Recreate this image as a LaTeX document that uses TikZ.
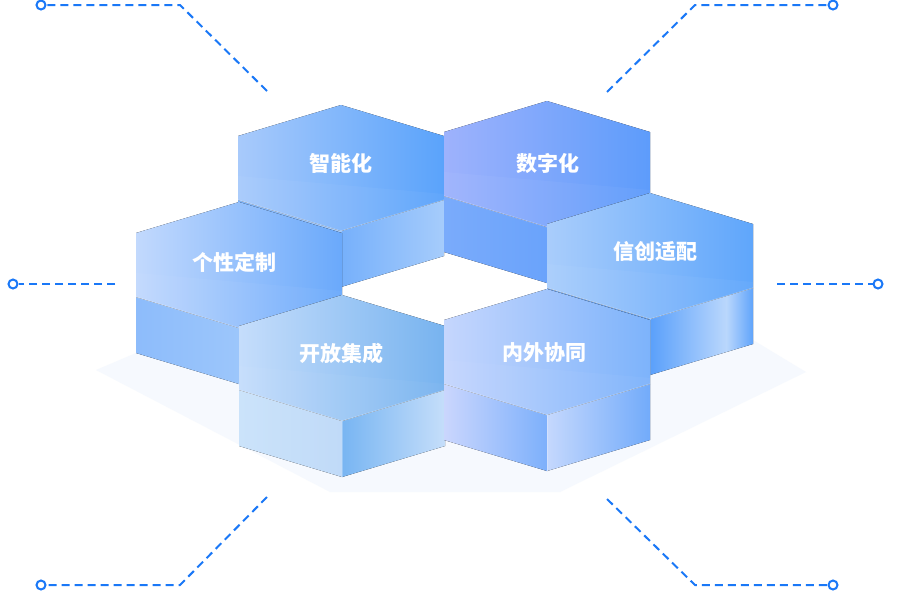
\documentclass[tikz,border=0pt]{standalone}
\usepackage{fontspec}
\newfontfamily\cjk{Noto Sans CJK SC}
\definecolor{dashblue}{HTML}{1A78F7}
\definecolor{floor}{HTML}{F6F9FE}
% top faces
\definecolor{znL}{HTML}{A8CAFB}\definecolor{znR}{HTML}{5AA3FB}
\definecolor{szL}{HTML}{9EB2FC}\definecolor{szR}{HTML}{5D9CFB}
\definecolor{gxL}{HTML}{C2D9FD}\definecolor{gxR}{HTML}{6AA9FB}
\definecolor{xcL}{HTML}{A9CDFB}\definecolor{xcR}{HTML}{5FA6FB}
\definecolor{kfL}{HTML}{C5DDFB}\definecolor{kfR}{HTML}{77B3EF}
\definecolor{nwL}{HTML}{C5D6FD}\definecolor{nwR}{HTML}{7DB3FB}
% walls
\definecolor{znwL}{HTML}{76B0FB}\definecolor{znwR}{HTML}{A6CCFB}
\definecolor{szwL}{HTML}{7AABFB}\definecolor{szwR}{HTML}{6AA3FB}
\definecolor{gxwL}{HTML}{8DBCFB}\definecolor{gxwR}{HTML}{9CC6FB}
\definecolor{xcwA}{HTML}{5AA0FB}\definecolor{xcwB}{HTML}{BAD7FC}\definecolor{xcwC}{HTML}{60A4FB}
\definecolor{kfwL}{HTML}{CBE3FA}\definecolor{kfwR}{HTML}{C0DAF8}
\definecolor{kfvL}{HTML}{78B5F2}\definecolor{kfvR}{HTML}{C5DEFA}
\definecolor{nwwL}{HTML}{CAD6FD}\definecolor{nwwR}{HTML}{7DB0FB}
\definecolor{nwvL}{HTML}{C5D8FD}\definecolor{nwvR}{HTML}{72ABFA}
\pgfdeclarehorizontalshading{shine}{100bp}{color(0bp)=(xcwA); color(25bp)=(xcwA); color(62bp)=(xcwB); color(75bp)=(xcwC); color(100bp)=(xcwC)}
\tikzset{
  edge/.style={white, opacity=0.4, line width=0.8pt},
  band/.style={white, opacity=0.04},
  dashline/.style={dashblue, line width=2pt, dash pattern=on 8pt off 5pt},
  endring/.style={circle, draw=dashblue, line width=2pt, fill=white, minimum size=9pt, inner sep=0pt},
  hexlabel/.style={text=white, font=\cjk\bfseries\fontsize{21pt}{23pt}\selectfont, inner sep=0pt},
}
% #1 cx, #2 cy, #3 top style, #4 left wall style, #5 right wall style
\newcommand\hexprism[5]{%
  \fill[#4] ({#1-103},{#2+32}) -- ({#1},{#2+63}) -- ({#1},{#2+119}) -- ({#1-103},{#2+88}) -- cycle;
  \fill[#5] ({#1},{#2+63}) -- ({#1+103},{#2+32}) -- ({#1+103},{#2+88}) -- ({#1},{#2+119}) -- cycle;
  \fill[#3] ({#1},{#2-63}) -- ({#1+103},{#2-32}) -- ({#1+103},{#2+32}) -- ({#1},{#2+63}) -- ({#1-103},{#2+32}) -- ({#1-103},{#2-32}) -- cycle;
  \fill[band] ({#1-103},{#2+8}) -- ({#1+103},{#2+26}) -- ({#1+103},{#2+32}) -- ({#1},{#2+63}) -- ({#1-103},{#2+32}) -- cycle;
  \draw[edge] ({#1-103},{#2+32}) -- ({#1},{#2+63}) -- ({#1+103},{#2+32});
  \draw[edge, opacity=0.25] ({#1},{#2+63}) -- ({#1},{#2+119});
}
\begin{document}
\begin{tikzpicture}[x=1pt,y=-1pt]
\fill[white] (0,0) rectangle (900,592);
\useasboundingbox (0,0) rectangle (900,592);
% floor shadow
\fill[floor] (136,353) -- (96,370) -- (330,492) -- (560,492) -- (806,372) -- (753,340) -- cycle;
% row 1
\hexprism{341}{168}{left color=znL,right color=znR}{left color=znwL,right color=znwR}{left color=znwL,right color=znwR}
\hexprism{547}{164}{left color=szL,right color=szR}{left color=szwL,right color=szwR}{left color=szwL,right color=szwR}
% row 2
\hexprism{239}{265}{left color=gxL,right color=gxR}{left color=gxwL,right color=gxwR}{left color=gxwL,right color=gxwR}
\hexprism{650}{256}{left color=xcL,right color=xcR}{left color=xcwA,right color=xcwA}{shade,shading=shine}
% row 3
\hexprism{342}{358}{left color=kfL,right color=kfR}{left color=kfwL,right color=kfwR}{left color=kfvL,right color=kfvR}
\hexprism{547}{352}{left color=nwL,right color=nwR}{left color=nwwL,right color=nwwR}{left color=nwvL,right color=nwvR}
% labels
\node[hexlabel] (zn) at (341,163) {智能化};
\node[hexlabel] (sz) at (548,163) {数字化};
\node[hexlabel] (gx) at (234,262) {个性定制};
\node[hexlabel] (xc) at (655,252) {信创适配};
\node[hexlabel] (kf) at (341,353) {开放集成};
\node[hexlabel] (nw) at (544,353) {内外协同};
% dashed leaders
\coordinate (tlA) at (267,91); \coordinate (tlB) at (180,5);
\coordinate (trA) at (607,92); \coordinate (trB) at (695,5);
\coordinate (blA) at (267,497); \coordinate (blB) at (180,585);
\coordinate (brA) at (607,499); \coordinate (brB) at (695,585);
\coordinate (lA) at (115,284);
\coordinate (rA) at (777,284);
\node[endring] (tlC) at (41,5) {};
\node[endring] (trC) at (833,5) {};
\node[endring] (blC) at (41,585) {};
\node[endring] (brC) at (833,585) {};
\node[endring] (lC) at (13,284) {};
\node[endring] (rC) at (878,284) {};
\draw[dashline] (tlA) -- (tlB) -- (tlC);
\draw[dashline] (trA) -- (trB) -- (trC);
\draw[dashline] (blA) -- (blB) -- (blC);
\draw[dashline] (brA) -- (brB) -- (brC);
\draw[dashline] (lA) -- (lC);
\draw[dashline] (rA) -- (rC);
\end{tikzpicture}
\end{document}
